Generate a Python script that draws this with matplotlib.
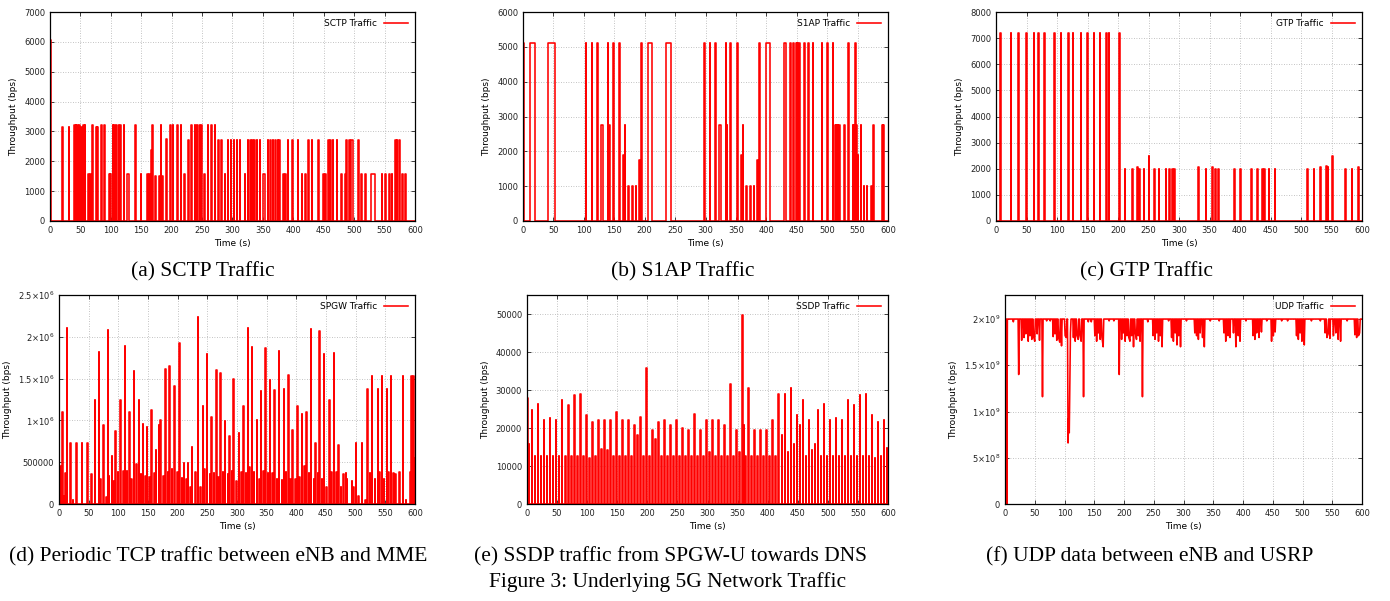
import numpy as np
import matplotlib
matplotlib.use('Agg')
import matplotlib.pyplot as plt

plt.rcParams['font.family'] = ['DejaVu Sans']
plt.rcParams['mathtext.default'] = 'regular'

# (a) SCTP traffic, one entry per 1 s sample (bps)
sctp_t = [0, 1, 20, 31, 40, 42, 45, 48, 51, 55, 57, 63, 66, 69, 76, 78, 84, 89, 97, 99,
          103, 105, 108, 112, 115, 121, 126, 127, 128, 129, 140, 149, 160, 163, 166, 168,
          173, 179, 182, 184, 191, 198, 202, 209, 215, 221, 227, 232, 238, 241, 245, 249,
          253, 259, 265, 271, 276, 281, 287, 292, 297, 302, 307, 312, 320, 325, 329, 332,
          336, 340, 345, 350, 351, 352, 353, 358, 362, 366, 370, 374, 377, 383, 387, 391,
          398, 407, 414, 419, 424, 430, 441, 449, 452, 457, 461, 465, 471, 479, 485, 487,
          492, 494, 495, 496, 497, 507, 512, 518, 527, 528, 529, 530, 531, 532, 533, 545,
          551, 558, 562, 567, 570, 574, 579, 584]
sctp_v = [6050, 6050, 3150, 3150, 3200, 3200, 3200, 3200, 3150, 3200, 3200, 1580, 1580, 3200,
          3150, 3150, 3200, 3200, 1580, 1580, 3200, 3200, 3200, 3200, 3200, 3200, 1580, 1580,
          1580, 1580, 3200, 1580, 1580, 1580, 2380, 3200, 1500, 1500, 3200, 1500, 2750, 3200,
          3200, 3200, 3200, 1580, 2720, 3200, 3200, 3200, 3200, 3200, 1580, 3200, 3200, 3200,
          2720, 2720, 1580, 2720, 2720, 2720, 2720, 2720, 1580, 2720, 2720, 2720, 2720, 2720,
          2720, 1580, 1580, 1580, 1580, 2720, 2720, 2720, 2720, 2720, 2720, 1580, 1580, 2720,
          2720, 2720, 1580, 1580, 2720, 2720, 2720, 1580, 1580, 2720, 2720, 2720, 2720, 1580,
          1580, 2720, 2720, 2720, 2720, 2720, 2720, 2720, 1580, 1580, 1580, 1580, 1580, 1580,
          1580, 1580, 1580, 1580, 1580, 1580, 1580, 2720, 2720, 2720, 1580, 1580]

# (b) S1AP traffic
s1ap_t = [0, 1, 11, 12, 13, 14, 15, 16, 17, 18, 41, 42, 43, 44, 45, 46, 47, 48, 49, 50, 51,
          103, 113, 122, 129, 130, 131, 139, 141, 142, 148, 158, 165, 167, 173, 179, 185,
          191, 194, 205, 206, 207, 208, 209, 210, 211, 235, 236, 237, 238, 239, 240, 241,
          242, 243, 298, 307, 316, 322, 323, 324, 325, 333, 335, 341, 352, 359, 361, 367,
          373, 379, 385, 388, 399, 400, 401, 402, 403, 404, 405, 429, 430, 431, 432, 439,
          444, 449, 451, 454, 462, 469, 476, 491, 500, 509, 513, 515, 517, 520, 528, 535,
          542, 544, 546, 548, 550, 555, 560, 565, 572, 576, 590, 592]
s1ap_v = [5100, 5100] + [5100] * 8 + [5100] * 11 + \
         [5100, 5100, 5100, 2750, 2750, 2750, 5100, 2750, 2750, 5100, 5100, 1900, 2750,
          1000, 1000, 1000, 1750, 5100] + [5100] * 7 + [5100] * 9 + \
         [5100, 5100, 5100, 2750, 2750, 2750, 2750, 5100, 2750, 5100, 5100, 1900, 2750,
          1000, 1000, 1000, 1750, 5100] + [5100] * 7 + [5100] * 4 + \
         [5100, 5100, 5100, 5100, 5100, 5100, 5100, 5100, 5100, 5100, 5100, 2750, 2750,
          2750, 2750, 2750, 5100, 2750, 2750, 5100, 2750, 1900, 2750, 1000, 1000, 1000,
          2750, 2750, 2750]

# (c) GTP traffic
gtp_t = [7, 24, 36, 49, 62, 69, 79, 95, 106, 118, 126, 139, 149, 160, 170, 181, 185, 202,
         211, 223, 231, 235, 242, 250, 259, 267, 278, 284, 289, 292, 331, 344, 354, 359,
         364, 390, 400, 418, 428, 436, 440, 447, 457, 510, 521, 531, 541, 544, 551, 572,
         583, 594]
gtp_v = [7200] * 18 + \
        [2000, 2000, 2070, 2000, 2000, 2500, 2000, 2000, 2000, 2000, 2000, 2000, 2050, 2000,
         2050, 2000, 2000, 2000, 2000, 2000, 2000, 2000, 2000, 2000, 2000, 2000, 2000, 2070,
         2090, 2070, 2500, 2000, 2000, 2070]

# (d) SPGW traffic (x1e6 bps)
spgw_t = [2, 5, 8, 10, 13, 19, 23, 29, 38, 48, 54, 60, 67, 69, 74, 80, 82, 84, 89, 92, 95,
          99, 103, 108, 111, 114, 118, 122, 126, 130, 134, 138, 141, 145, 148, 152, 155,
          160, 163, 168, 171, 176, 179, 183, 186, 190, 194, 199, 203, 207, 210, 214, 217,
          221, 224, 230, 234, 238, 242, 245, 249, 254, 257, 261, 265, 268, 272, 276, 279,
          284, 287, 291, 294, 299, 303, 307, 310, 315, 318, 321, 325, 328, 333, 337, 340,
          344, 348, 352, 355, 359, 363, 367, 370, 375, 379, 382, 386, 390, 393, 398, 401,
          405, 409, 413, 417, 421, 424, 429, 432, 436, 439, 443, 446, 450, 455, 459, 463,
          467, 471, 475, 479, 483, 485, 493, 496, 500, 504, 510, 516, 519, 524, 527, 532,
          537, 540, 544, 547, 552, 555, 559, 563, 567, 573, 579, 584, 592, 594, 597, 599]
spgw_v = [0.45, 1.10, 0.10, 0.37, 2.10, 0.73, 0.05, 0.73, 0.73, 0.73, 0.36, 1.25, 1.82, 0.30,
          0.94, 0.08, 2.08, 0.33, 0.57, 0.28, 0.87, 0.38, 1.24, 0.39, 1.89, 0.40, 1.10, 0.30,
          1.59, 0.48, 1.24, 0.36, 0.96, 0.34, 0.92, 0.32, 1.13, 0.37, 0.65, 0.95, 1.01, 0.33,
          1.62, 0.38, 1.65, 0.42, 1.41, 0.38, 1.92, 0.31, 0.49, 0.30, 0.49, 0.20, 0.68, 0.38,
          2.24, 0.20, 1.17, 0.42, 1.80, 0.36, 1.04, 0.37, 1.60, 0.32, 1.57, 0.38, 0.99, 0.36,
          0.81, 0.40, 1.50, 0.27, 0.85, 0.38, 1.17, 0.37, 2.11, 0.44, 1.88, 0.38, 1.00, 0.30,
          1.35, 0.40, 1.87, 0.37, 1.48, 0.37, 1.36, 0.30, 1.83, 0.29, 1.38, 0.38, 1.54, 0.30,
          0.89, 0.30, 1.17, 0.32, 1.08, 0.45, 1.10, 0.37, 2.09, 0.30, 0.73, 0.37, 2.07, 0.30,
          1.79, 0.20, 1.24, 0.38, 1.81, 0.38, 0.71, 0.20, 0.36, 0.37, 0.30, 0.28, 0.20, 0.73,
          0.10, 0.73, 0.05, 1.38, 0.37, 1.53, 0.30, 1.38, 0.38, 1.53, 0.30, 1.38, 0.38, 1.53,
          0.37, 0.36, 0.38, 1.53, 0.05, 0.38, 1.53, 1.53, 0.55]

# (e) SSDP traffic, bursts every 5 s starting at t = 3 s (bps)
ssdp_v = [15800, 24800, 12700, 26400, 12700, 22100, 12700, 22700, 12700, 22100,
          12700, 27500, 12700, 26100, 12700, 28800, 12700, 28900, 12700, 23500,
          12100, 21500, 12700, 22100, 14500, 22100, 14200, 22100, 12700, 24300,
          12700, 22100, 12700, 22100, 12700, 20800, 18200, 23000, 12700, 35900,
          12700, 19600, 17200, 21600, 12700, 22100, 12700, 20800, 12700, 22100,
          12700, 20000, 12700, 19600, 12700, 23700, 12700, 19600, 12700, 22100,
          13600, 22100, 12700, 22100, 12700, 20800, 12700, 31700, 12700, 19600,
          13600, 49800, 12700, 30400, 12700, 19600, 12700, 19600, 12700, 19600,
          12700, 22100, 12700, 28900, 18200, 28900, 13600, 30400, 15800, 23500,
          20900, 27500, 12700, 22100, 14200, 15800, 24800, 12700, 26400, 12700,
          22100, 12700, 22700, 12700, 22100, 12700, 27500, 12700, 26100, 12700,
          28800, 12700, 28900, 12700, 23500, 12100, 21500, 12700, 22100, 14800]
ssdp_extra_t = [0, 360]
ssdp_extra_v = [28000, 20900]

# (f) UDP traffic (x1e9 bps), flat at 2e9 apart from these samples
udp_base = 2.0
udp_t = [0, 3, 14, 23, 28, 32, 35, 39, 42, 45, 48, 50, 54, 58, 63, 70, 76, 81, 84, 87, 90,
         92, 95, 101, 103, 106, 107, 108, 110, 115, 118, 121, 123, 126, 128, 132, 140, 145,
         151, 154, 157, 160, 163, 165, 175, 183, 192, 196, 199, 202, 205, 208, 210, 213,
         216, 219, 221, 224, 227, 231, 240, 249, 252, 255, 258, 261, 264, 275, 280, 283,
         286, 289, 292, 295, 305, 319, 322, 325, 328, 332, 335, 345, 360, 368, 371, 375,
         378, 384, 388, 392, 395, 405, 417, 420, 423, 427, 431, 440, 448, 451, 454, 465,
         475, 490, 493, 496, 499, 503, 515, 530, 538, 541, 543, 546, 552, 556, 560, 564,
         575, 588, 591, 594, 596]
udp_v = [0, 0, 1.97, 1.40, 1.77, 1.80, 1.84, 1.76, 1.82, 1.78, 1.81, 1.76, 1.84, 1.77, 1.16,
         1.98, 1.98, 1.81, 1.84, 1.77, 1.80, 1.75, 1.71, 1.82, 1.80, 0.66, 0.93, 0.77, 1.85,
         1.80, 1.76, 1.82, 1.78, 1.82, 1.76, 1.16, 1.97, 1.97, 1.82, 1.76, 1.85, 1.78, 1.80,
         1.70, 1.98, 1.98, 1.40, 1.78, 1.85, 1.76, 1.82, 1.80, 1.76, 1.82, 1.70, 1.85, 1.78,
         1.82, 1.76, 1.16, 1.97, 1.82, 1.78, 1.85, 1.76, 1.82, 1.70, 1.98, 1.80, 1.76, 1.85,
         1.72, 1.82, 1.70, 1.98, 1.85, 1.82, 1.78, 1.85, 1.80, 1.70, 1.98, 1.98, 1.85, 1.76,
         1.82, 1.80, 1.85, 1.70, 1.82, 1.76, 1.98, 1.82, 1.78, 1.85, 1.80, 1.86, 1.98, 1.76,
         1.82, 1.86, 1.98, 1.98, 1.82, 1.78, 1.85, 1.76, 1.72, 1.98, 1.98, 1.85, 1.80, 1.84,
         1.79, 1.82, 1.85, 1.78, 1.76, 1.98, 1.83, 1.80, 1.82, 1.85]


def pulse_path(times, vals, t_end=600):
    # 1 s samples drawn as gnuplot-like steps, consecutive equal samples merge
    xs, ys = [0.0], [0.0]
    for t, v in zip(times, vals):
        if xs[-1] == t and len(ys) > 2 and ys[-2] == v:
            xs.pop(); ys.pop()
            xs += [t + 1, t + 1]; ys += [v, 0]
        else:
            xs += [t, t, t + 1, t + 1]; ys += [0, v, v, 0]
    xs.append(t_end); ys.append(0)
    return np.array(xs), np.array(ys)


def dip_path(times, vals, base, t_end=600):
    xs, ys = [], []
    for t, v in zip(times, vals):
        if xs and t - xs[-1] > 2:
            xs += [xs[-1] + 1, t - 1]; ys += [base, base]
        xs.append(t); ys.append(v)
    xs += [xs[-1] + 1, t_end]; ys += [base, base]
    return np.array(xs), np.array(ys)


def style(ax, ymax, yticks, label, ylabels=None):
    ax.set_xlim(0, 600)
    ax.set_ylim(0, ymax)
    ax.set_xticks(range(0, 601, 50))
    ax.set_yticks(yticks)
    if ylabels is not None:
        ax.set_yticklabels(ylabels)
    ax.tick_params(direction='in', top=True, right=True, labelsize=6, length=3,
                   width=0.6, colors='#222222')
    ax.grid(True, color='#b0b0b0', linestyle=(0, (1, 2)), linewidth=0.6)
    ax.set_axisbelow(True)
    for s in ax.spines.values():
        s.set_linewidth(0.9)
        s.set_color('black')
    ax.set_xlabel('Time (s)', fontsize=6.5, labelpad=3)
    ax.set_ylabel('Throughput (bps)', fontsize=6.5, labelpad=4)
    ax.legend([label], loc='upper right', frameon=False, markerfirst=False,
              fontsize=6.5, handlelength=2.6, borderaxespad=0.4)


fig = plt.figure(figsize=(13.9, 6.01), dpi=100)
W, H = 1390, 601


def add_axes(l, r, t, b):
    return fig.add_axes([l / W, 1 - b / H, (r - l) / W, (b - t) / H])


red = '#ff0000'
lw = 1.15

ax = add_axes(50, 415, 12, 221)
x, y = pulse_path(sctp_t, sctp_v)
ax.plot(x, y, color=red, lw=lw)
style(ax, 7000, range(0, 7001, 1000), 'SCTP Traffic')

ax = add_axes(523, 888, 12, 221)
x, y = pulse_path(s1ap_t, s1ap_v)
ax.plot(x, y, color=red, lw=lw)
style(ax, 6000, range(0, 6001, 1000), 'S1AP Traffic')

ax = add_axes(996, 1362, 12, 221)
x, y = pulse_path(gtp_t, gtp_v)
ax.plot(x, y, color=red, lw=lw)
style(ax, 8000, range(0, 8001, 1000), 'GTP Traffic')

ax = add_axes(59, 415, 295, 504)
x, y = pulse_path(spgw_t, np.array(spgw_v) * 1e6)
ax.plot(x, y, color=red, lw=lw)
style(ax, 2.5e6, np.arange(0, 2.51e6, 5e5), 'SPGW Traffic',
      ['0', '500000', r'1$\times$10$^{6}$', r'1.5$\times$10$^{6}$',
       r'2$\times$10$^{6}$', r'2.5$\times$10$^{6}$'])

ax = add_axes(527, 888, 295, 504)
ssdp_t = np.arange(3, 3 + 5 * len(ssdp_v), 5)
order = np.argsort(np.r_[ssdp_t, ssdp_extra_t], kind='stable')
all_t = np.r_[ssdp_t, ssdp_extra_t][order]
all_v = np.r_[ssdp_v, ssdp_extra_v][order]
x, y = pulse_path(list(all_t), list(all_v))
ax.plot(x, y, color=red, lw=lw)
style(ax, 55000, range(0, 50001, 10000), 'SSDP Traffic')

ax = add_axes(1005, 1362, 295, 504)
x, y = dip_path(udp_t, udp_v, udp_base)
ax.plot(x, y * 1e9, color=red, lw=lw)
style(ax, 2.26e9, np.arange(0, 2.01e9, 5e8), 'UDP Traffic',
      ['0', r'5$\times$10$^{8}$', r'1$\times$10$^{9}$', r'1.5$\times$10$^{9}$',
       r'2$\times$10$^{9}$'])

serif = ['Liberation Serif', 'DejaVu Serif']
captions = [('(a) SCTP Traffic', 203, 272), ('(b) S1AP Traffic', 683, 272),
            ('(c) GTP Traffic', 1147, 272),
            ('(d) Periodic TCP traffic between eNB and MME', 218, 557),
            ('(e) SSDP traffic from SPGW-U towards DNS', 670, 557),
            ('(f) UDP data between eNB and USRP', 1150, 557),
            ('Figure 3: Underlying 5G Network Traffic', 668, 582)]
for text, cx, cy in captions:
    fig.text(cx / W, 1 - cy / H, text, ha='center', va='center', fontsize=15.5,
             family=serif)

fig.savefig('out.png', dpi=100)
